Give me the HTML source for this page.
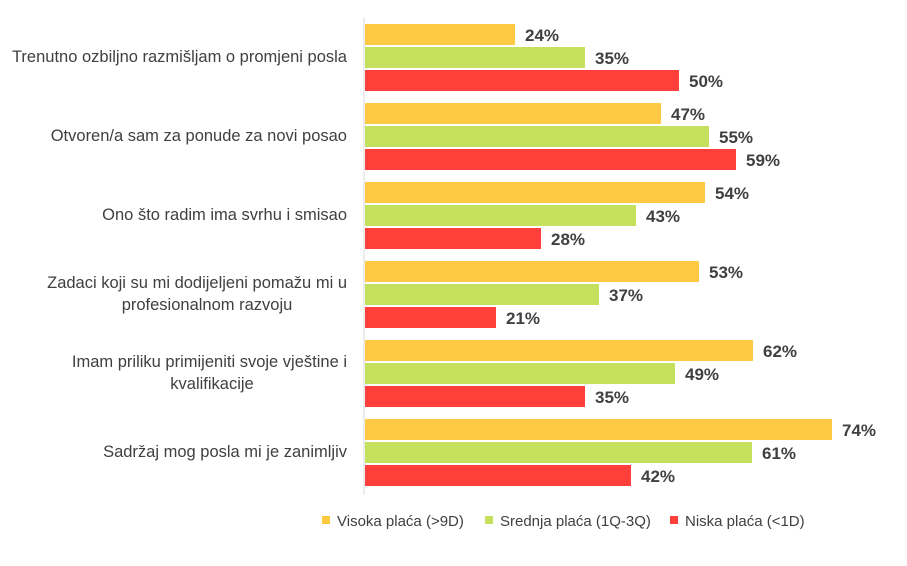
<!DOCTYPE html>
<html><head><meta charset="utf-8"><style>
body{margin:0;background:#fff}
svg text{font-family:"Liberation Sans",sans-serif}
.c{font-size:16.5px;fill:#404040;text-anchor:end}
.m{font-size:16.5px;fill:#404040;text-anchor:middle}
.v{font-size:17px;font-weight:bold;fill:#404040}
.l{font-size:15px;fill:#404040}
</style></head><body>
<svg width="907" height="561" xmlns="http://www.w3.org/2000/svg">
<line x1="364" y1="18" x2="364" y2="495" stroke="#d9d9d9" stroke-width="1"/>
<rect x="365" y="24" width="150" height="21" fill="#FFC943"/>
<rect x="365" y="47" width="220" height="21" fill="#C5E05C"/>
<rect x="365" y="70" width="314" height="21" fill="#FF403A"/>
<text class="v" x="525" y="41">24%</text><text class="v" x="595" y="64">35%</text><text class="v" x="689" y="87">50%</text>
<text class="c" x="347" y="62">Trenutno ozbiljno razmišljam o promjeni posla</text>
<rect x="365" y="103" width="296" height="21" fill="#FFC943"/>
<rect x="365" y="126" width="344" height="21" fill="#C5E05C"/>
<rect x="365" y="149" width="371" height="21" fill="#FF403A"/>
<text class="v" x="671" y="120">47%</text><text class="v" x="719" y="143">55%</text><text class="v" x="746" y="166">59%</text>
<text class="c" x="347" y="141">Otvoren/a sam za ponude za novi posao</text>
<rect x="365" y="182" width="340" height="21" fill="#FFC943"/>
<rect x="365" y="205" width="271" height="21" fill="#C5E05C"/>
<rect x="365" y="228" width="176" height="21" fill="#FF403A"/>
<text class="v" x="715" y="199">54%</text><text class="v" x="646" y="222">43%</text><text class="v" x="551" y="245">28%</text>
<text class="c" x="347" y="220">Ono što radim ima svrhu i smisao</text>
<rect x="365" y="261" width="334" height="21" fill="#FFC943"/>
<rect x="365" y="284" width="234" height="21" fill="#C5E05C"/>
<rect x="365" y="307" width="131" height="21" fill="#FF403A"/>
<text class="v" x="709" y="278">53%</text><text class="v" x="609" y="301">37%</text><text class="v" x="506" y="324">21%</text>
<text class="c" x="347" y="288">Zadaci koji su mi dodijeljeni pomažu mi u</text>
<text class="m" x="207" y="310">profesionalnom razvoju</text>
<rect x="365" y="340" width="388" height="21" fill="#FFC943"/>
<rect x="365" y="363" width="310" height="21" fill="#C5E05C"/>
<rect x="365" y="386" width="220" height="21" fill="#FF403A"/>
<text class="v" x="763" y="357">62%</text><text class="v" x="685" y="380">49%</text><text class="v" x="595" y="403">35%</text>
<text class="c" x="347" y="367">Imam priliku primijeniti svoje vještine i</text>
<text class="m" x="212" y="389">kvalifikacije</text>
<rect x="365" y="419" width="467" height="21" fill="#FFC943"/>
<rect x="365" y="442" width="387" height="21" fill="#C5E05C"/>
<rect x="365" y="465" width="266" height="21" fill="#FF403A"/>
<text class="v" x="842" y="436">74%</text><text class="v" x="762" y="459">61%</text><text class="v" x="641" y="482">42%</text>
<text class="c" x="347" y="457">Sadržaj mog posla mi je zanimljiv</text>
<rect x="322" y="516" width="8" height="8" fill="#FFC943"/>
<text class="l" x="337" y="526">Visoka plaća (&gt;9D)</text>
<rect x="485" y="516" width="8" height="8" fill="#C5E05C"/>
<text class="l" x="500" y="526">Srednja plaća (1Q-3Q)</text>
<rect x="670" y="516" width="8" height="8" fill="#FF403A"/>
<text class="l" x="685" y="526">Niska plaća (&lt;1D)</text>
</svg>
</body></html>
